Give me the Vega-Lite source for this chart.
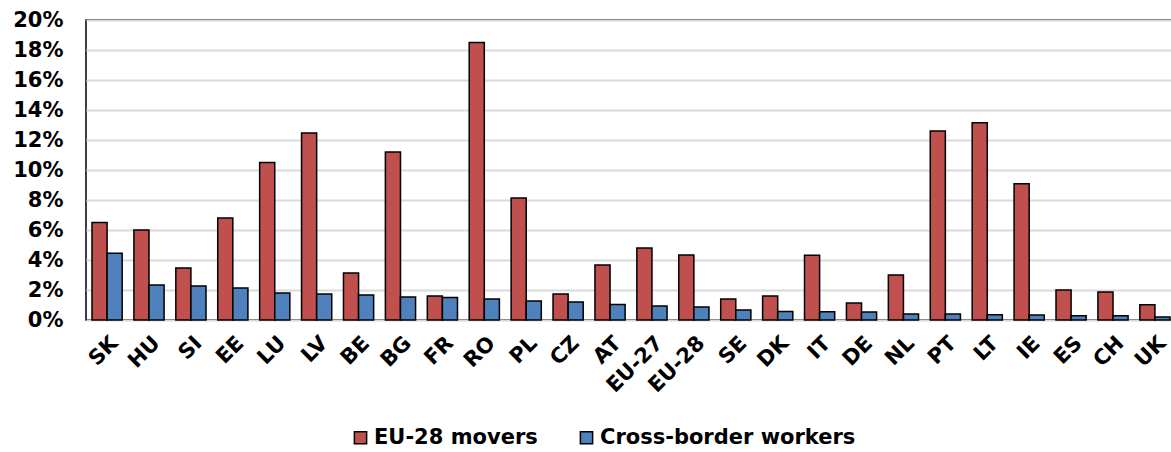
{
  "$schema": "https://vega.github.io/schema/vega-lite/v6.json",
  "autosize": "none",
  "width": 1090,
  "height": 300,
  "padding": {"left": 86, "top": 20, "right": 0, "bottom": 132},
  "background": "white",
  "config": {
    "font": "DejaVu Sans",
    "view": {"stroke": "black", "strokeWidth": 1.5},
    "axis": {"labelFont": "DejaVu Sans", "labelFontWeight": "bold", "labelColor": "black", "labelFontSize": 21}
  },
  "data": {
    "values": [
      {"country": "SK", "series": "EU-28 movers", "value": 0.065},
      {"country": "SK", "series": "Cross-border workers", "value": 0.0445},
      {"country": "HU", "series": "EU-28 movers", "value": 0.060},
      {"country": "HU", "series": "Cross-border workers", "value": 0.0233},
      {"country": "SI", "series": "EU-28 movers", "value": 0.0347},
      {"country": "SI", "series": "Cross-border workers", "value": 0.0227},
      {"country": "EE", "series": "EU-28 movers", "value": 0.068},
      {"country": "EE", "series": "Cross-border workers", "value": 0.0213},
      {"country": "LU", "series": "EU-28 movers", "value": 0.105},
      {"country": "LU", "series": "Cross-border workers", "value": 0.018},
      {"country": "LV", "series": "EU-28 movers", "value": 0.1247},
      {"country": "LV", "series": "Cross-border workers", "value": 0.0173},
      {"country": "BE", "series": "EU-28 movers", "value": 0.0313},
      {"country": "BE", "series": "Cross-border workers", "value": 0.0167},
      {"country": "BG", "series": "EU-28 movers", "value": 0.112},
      {"country": "BG", "series": "Cross-border workers", "value": 0.0153},
      {"country": "FR", "series": "EU-28 movers", "value": 0.016},
      {"country": "FR", "series": "Cross-border workers", "value": 0.015},
      {"country": "RO", "series": "EU-28 movers", "value": 0.185},
      {"country": "RO", "series": "Cross-border workers", "value": 0.014},
      {"country": "PL", "series": "EU-28 movers", "value": 0.0813},
      {"country": "PL", "series": "Cross-border workers", "value": 0.0127},
      {"country": "CZ", "series": "EU-28 movers", "value": 0.0173},
      {"country": "CZ", "series": "Cross-border workers", "value": 0.012},
      {"country": "AT", "series": "EU-28 movers", "value": 0.0367},
      {"country": "AT", "series": "Cross-border workers", "value": 0.0103},
      {"country": "EU-27", "series": "EU-28 movers", "value": 0.048},
      {"country": "EU-27", "series": "Cross-border workers", "value": 0.0093},
      {"country": "EU-28", "series": "EU-28 movers", "value": 0.0433},
      {"country": "EU-28", "series": "Cross-border workers", "value": 0.0087},
      {"country": "SE", "series": "EU-28 movers", "value": 0.014},
      {"country": "SE", "series": "Cross-border workers", "value": 0.0067},
      {"country": "DK", "series": "EU-28 movers", "value": 0.016},
      {"country": "DK", "series": "Cross-border workers", "value": 0.0057},
      {"country": "IT", "series": "EU-28 movers", "value": 0.0431},
      {"country": "IT", "series": "Cross-border workers", "value": 0.0055},
      {"country": "DE", "series": "EU-28 movers", "value": 0.0113},
      {"country": "DE", "series": "Cross-border workers", "value": 0.0053},
      {"country": "NL", "series": "EU-28 movers", "value": 0.030},
      {"country": "NL", "series": "Cross-border workers", "value": 0.004},
      {"country": "PT", "series": "EU-28 movers", "value": 0.126},
      {"country": "PT", "series": "Cross-border workers", "value": 0.004},
      {"country": "LT", "series": "EU-28 movers", "value": 0.1315},
      {"country": "LT", "series": "Cross-border workers", "value": 0.0035},
      {"country": "IE", "series": "EU-28 movers", "value": 0.0909},
      {"country": "IE", "series": "Cross-border workers", "value": 0.0033},
      {"country": "ES", "series": "EU-28 movers", "value": 0.020},
      {"country": "ES", "series": "Cross-border workers", "value": 0.0029},
      {"country": "CH", "series": "EU-28 movers", "value": 0.0187},
      {"country": "CH", "series": "Cross-border workers", "value": 0.0029},
      {"country": "UK", "series": "EU-28 movers", "value": 0.0102},
      {"country": "UK", "series": "Cross-border workers", "value": 0.002}
    ]
  },
  "mark": {"type": "bar", "stroke": "black", "strokeWidth": 1.5},
  "encoding": {
    "x": {
      "field": "country",
      "type": "nominal",
      "sort": null,
      "scale": {"paddingInner": 0.28, "paddingOuter": 0.143},
      "axis": {"title": null, "labelAngle": -45, "ticks": false, "domain": false, "labelPadding": 12}
    },
    "xOffset": {"field": "series", "type": "nominal", "sort": ["EU-28 movers", "Cross-border workers"]},
    "y": {
      "field": "value",
      "type": "quantitative",
      "scale": {"domain": [0, 0.2], "nice": false},
      "axis": {
        "title": null,
        "format": ".0%",
        "values": [0, 0.02, 0.04, 0.06, 0.08, 0.1, 0.12, 0.14, 0.16, 0.18, 0.2],
        "ticks": false,
        "domain": false,
        "labelPadding": 23,
        "gridColor": "#d9d9d9",
        "gridWidth": 2
      }
    },
    "color": {
      "field": "series",
      "type": "nominal",
      "sort": ["EU-28 movers", "Cross-border workers"],
      "scale": {"domain": ["EU-28 movers", "Cross-border workers"], "range": ["#C0504D", "#4F81BD"]},
      "legend": {
        "title": null,
        "orient": "none",
        "direction": "horizontal",
        "legendX": 264,
        "legendY": 407,
        "symbolType": "square",
        "symbolSize": 150,
        "symbolStrokeColor": "black",
        "symbolStrokeWidth": 1.5,
        "labelFontSize": 21,
        "labelFontWeight": "bold",
        "labelColor": "black",
        "labelFont": "DejaVu Sans",
        "labelLimit": 0,
        "columnPadding": 38,
        "symbolOffset": 0,
        "labelOffset": 3
      }
    }
  }
}
